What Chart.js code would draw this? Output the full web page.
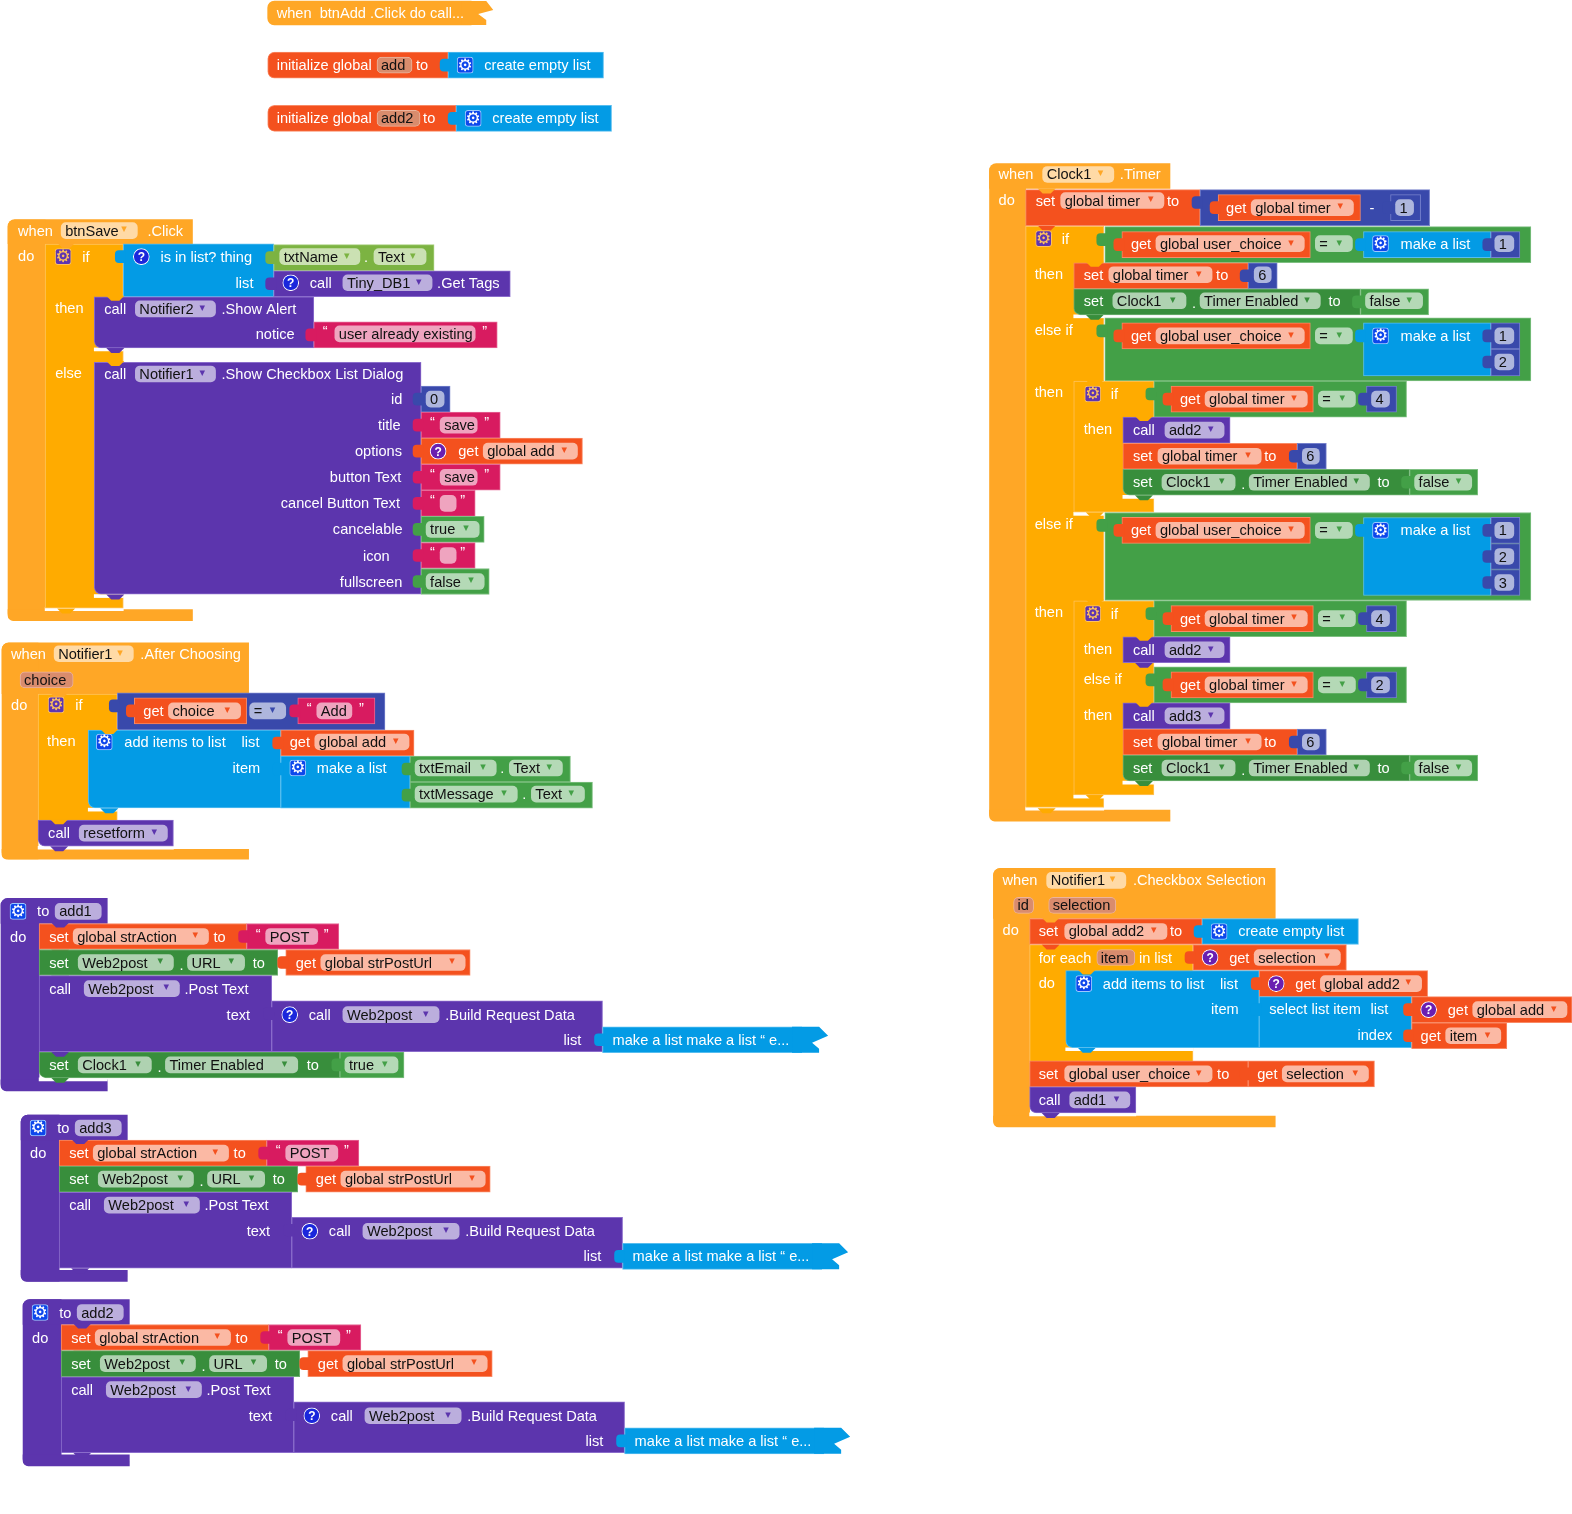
<!DOCTYPE html>
<html lang="en">
<head>
<meta charset="UTF-8">
<title>App Inventor blocks</title>
<script src="https://cdn.jsdelivr.net/npm/chart.js@4"></script>
<style>
    body { margin: 0; background: #fff; }
    canvas { display: block; }
</style>
</head>
<body>
<canvas id="blocks" width="1572" height="1514"></canvas>
<script>
// every block row: colour, x from, x to, y from, y to, flags
// flags: t = input tab on the left, n = notch under it, l = round left, u = round top left, b = round bottom left, o = open right edge
const btnAddBlocks = [['hat',267,470,1,25,'l'], ['red',267,447,52,78,'l'], ['blue',447,602,52,78,'t'], ['red',267,455,105,131,'l'], ['blue',455,610,105,131,'t']];

const btnSaveBlocks = [
    ['hat',8,192,219,243,'u'], ['hat',8,45,219,619,'l'], ['hat',8,192,608,619,'b'],
    ['white',45,123,606,609],
    ['amber',45,123,243,607,'n'],
    ['blue',123,273,243,296,'t'], ['lime',273,433,244,270,'t'], ['purple',273,509,270,296,'t'],
    ['white',94,123,347,350],
    ['purple',94,313,296,347,'nb'], ['crimson',313,496,321,347,'t'],
    ['white',94,123,593,596],
    ['purple',94,420,361,593,'nb'],
    ['indigo',420,449,385,411,'t'], ['crimson',420,499,411,437,'t'], ['red',420,581,437,463,'t'], ['crimson',420,499,463,489,'t'],
    ['crimson',420,474,489,515,'t'], ['green',420,483,515,541,'t'], ['crimson',420,474,541,567,'t'], ['green',420,488,567,593,'t']
];

const afterChoosingBlocks = [
    ['hat',2,248,641,692,'u'], ['hat',2,38,641,857,'l'], ['hat',2,248,847,857,'b'],
    ['amber',38,117,692,819],
    ['indigo',117,384,691,728,'t'], ['red',134,246,696,722,'t'], ['crimson',297,374,696,722,'t'],
    ['white',88,117,806,809],
    ['blue',88,280,728,806,'nb'], ['red',280,413,728,754,'t'], ['blue',280,409,754,806,'t'],
    ['green',409,569,754,780,'t'], ['green',409,591,780,806,'t'],
    ['white',38,173,844,847],
    ['purple',38,173,818,844,'nb']
];

const clockTimerBlocks = [
    ['hat',987,1167,163,188,'u'], ['hat',987,1023,163,819,'l'], ['hat',987,1167,808,819,'b'],
    ['white',1023,1101,805,808],
    ['amber',1023,1101,225,806,'n'],
    ['red',1023,1197,189,225,'n'], ['indigo',1197,1426,189,225,'t'], ['red',1215,1357,194,220,'t'], ['indigo',1387,1417,194,220,'t'],
    ['green',1102,1527,226,262,'t'], ['red',1119,1307,231,257,'t'], ['blue',1360,1487,231,257,'t'], ['indigo',1487,1516,231,257,'t'],
    ['red',1071,1245,262,288,'n'], ['indigo',1245,1274,262,288,'t'],
    ['white',1071,1101,314,317],
    ['dgreen',1071,1357,288,314,'nb'], ['green',1357,1425,288,314,'t'],
    ['green',1102,1527,317,380,'t'], ['red',1119,1307,322,348,'t'], ['blue',1360,1487,322,375,'t'], ['indigo',1487,1516,322,348,'t'], ['indigo',1487,1516,348,375,'t'],
    ['white',1071,1101,511,514],
    ['amber',1071,1151,380,511,'n'],
    ['green',1151,1403,380,416,'t'], ['red',1168,1310,385,411,'t'], ['indigo',1363,1393,385,411,'t'],
    ['purple',1120,1227,416,442,'n'], ['red',1120,1294,442,468,'n'], ['indigo',1294,1323,442,468,'t'],
    ['white',1120,1151,494,497],
    ['dgreen',1120,1406,468,494,'nb'], ['green',1406,1474,468,494,'t'],
    ['green',1102,1527,511,599,'t'], ['red',1119,1307,516,542,'t'], ['blue',1360,1487,516,594,'t'],
    ['indigo',1487,1516,516,542,'t'], ['indigo',1487,1516,542,568,'t'], ['indigo',1487,1516,568,594,'t'],
    ['white',1071,1101,793,796],
    ['amber',1071,1151,599,793,'n'],
    ['green',1151,1403,599,635,'t'], ['red',1168,1310,604,630,'t'], ['indigo',1363,1393,604,630,'t'],
    ['purple',1120,1227,635,661,'n'],
    ['green',1151,1403,665,701,'t'], ['red',1168,1310,670,696,'t'], ['indigo',1363,1393,670,696,'t'],
    ['purple',1120,1227,701,727,'n'], ['red',1120,1294,727,753,'n'], ['indigo',1294,1323,727,753,'t'],
    ['white',1120,1151,779,782],
    ['dgreen',1120,1406,753,779,'nb'], ['green',1406,1474,753,779,'t']
];

const checkboxBlocks = [
    ['hat',991,1272,866,916,'u'], ['hat',991,1027,866,1124,'l'], ['hat',991,1272,1113,1124,'b'],
    ['amber',1027,1190,942,1060,'n'],
    ['red',1027,1199,916,942,'n'], ['blue',1199,1355,916,942,'t'],
    ['red',1190,1343,942,968,'t'],
    ['white',1063,1190,1045,1048],
    ['blue',1063,1256,968,1045,'nb'], ['red',1256,1424,968,994,'t'], ['blue',1256,1408,994,1045,'t'],
    ['red',1408,1568,994,1020,'t'], ['red',1408,1503,1020,1046,'t'],
    ['red',1027,1245,1058,1084,'n'], ['red',1245,1371,1058,1084,'t'],
    ['white',1027,1133,1110,1113],
    ['purple',1027,1133,1084,1110,'nb']
];

// notch of the enclosing block, dropping onto the top of a statement: colour, statement x, y
const topNotches = [
    ['hat',45,243], ['amber',94,296], ['amber',94,361], ['hat',38,692], ['amber',88,728], ['amber',38,818],
    ['hat',1023,189], ['amber',1071,262], ['amber',1071,380], ['amber',1120,416], ['amber',1071,599], ['amber',1120,635], ['amber',1120,701],
    ['hat',1027,916], ['amber',1063,968], ['purple',39,921], ['purple',59,1137], ['purple',61,1321]
];

// the three procedures share one layout, stored at the position of add1
const postStacks = [['add1',0,0,1088], ['add3',20,216,1062], ['add2',22,400,1062]];
const postBlocks = [
    ['red',39,246,921,947,'n'], ['crimson',246,338,921,947,'t'],
    ['dgreen',39,277,947,973,'n'], ['red',285,469,947,973,'t'],
    ['purple',39,271,973,1049,'n'], ['purple',271,601,998,1049,'t'],
    ['blue',601,800,1024,1050,'to']
];
const postTip = [[790,1024],[817,1024],[826,1033],[810,1040],[817,1046],[817,1050],[790,1050]];
const add1Blocks = [['white',39,107,1075,1078], ['dgreen',39,339,1049,1075,'nb'], ['green',339,403,1049,1075,'t']];
const btnAddTip = [[460,1],[485,1],[492,10],[477,14],[485,20],[485,25],[460,25]];

// text, x from, x to, centre y, tint, dropdown arrow
const fields = [
    ['add',376,411,65,'variable'], ['add2',376,419,118,'variable'],
    ['btnSave',61,137,230,'hat',1], ['txtName',279,359,256,'lime',1], ['Text',373,425,256,'lime',1],
    ['Tiny_DB1',342,431,282,'purple',1], ['Notifier2',135,215,308,'purple',1], ['user already existing',334,474,333,'crimson'],
    ['Notifier1',135,215,373,'purple',1], ['0',425,443,398,'indigo'], ['save',439,476,424,'crimson'], ['global add',482,576,450,'red',1],
    ['save',439,476,476,'crimson'], ['',439,455,502,'crimson'], ['true',425,478,528,'green',1], ['',439,455,554,'crimson'], ['false',425,483,580,'green',1],
    ['Notifier1',54,133,652,'hat',1], ['choice',20,73,678,'variable'],
    ['choice',168,240,709,'red',1], ['=',249,285,709,'indigo',1], ['Add',316,351,709,'crimson'],
    ['global add',314,408,740,'red',1], ['txtEmail',414,495,766,'green',1], ['Text',508,561,766,'green',1],
    ['txtMessage',414,516,792,'green',1], ['Text',530,583,792,'green',1], ['resetform',79,167,831,'purple',1],
    ['Clock1',1040,1111,174,'hat',1], ['global timer',1058,1161,200,'red',1], ['global timer',1248,1350,207,'red',1], ['1',1392,1410,207,'indigo'],
    ['global user_choice',1153,1301,243,'red',1], ['=',1312,1349,243,'green',1], ['1',1491,1510,243,'indigo'],
    ['global timer',1106,1209,274,'red',1], ['6',1251,1268,274,'indigo'],
    ['Clock1',1110,1183,300,'dgreen',1], ['Timer Enabled',1197,1317,300,'dgreen',1], ['false',1362,1419,300,'green',1],
    ['global user_choice',1153,1301,335,'red',1], ['=',1312,1349,335,'green',1], ['1',1491,1510,335,'indigo'], ['2',1491,1510,361,'indigo'],
    ['global timer',1202,1304,398,'red',1], ['=',1315,1352,398,'green',1], ['4',1368,1386,398,'indigo'],
    ['add2',1162,1221,429,'purple',1], ['global timer',1155,1258,455,'red',1], ['6',1299,1316,455,'indigo'],
    ['Clock1',1159,1232,481,'dgreen',1], ['Timer Enabled',1246,1366,481,'dgreen',1], ['false',1411,1468,481,'green',1],
    ['global user_choice',1153,1301,529,'red',1], ['=',1312,1349,529,'green',1], ['1',1491,1510,529,'indigo'], ['2',1491,1510,555,'indigo'], ['3',1491,1510,581,'indigo'],
    ['global timer',1202,1304,617,'red',1], ['=',1315,1352,617,'green',1], ['4',1368,1386,617,'indigo'], ['add2',1162,1221,648,'purple',1],
    ['global timer',1202,1304,683,'red',1], ['=',1315,1352,683,'green',1], ['2',1368,1386,683,'indigo'], ['add3',1162,1221,714,'purple',1],
    ['global timer',1155,1258,740,'red',1], ['6',1299,1316,740,'indigo'],
    ['Clock1',1159,1232,766,'dgreen',1], ['Timer Enabled',1246,1366,766,'dgreen',1], ['false',1411,1468,766,'green',1],
    ['Notifier1',1044,1123,878,'hat',1], ['id',1011,1031,903,'variable'], ['selection',1046,1113,903,'variable'],
    ['global add2',1062,1164,929,'red',1], ['item',1094,1132,955,'variable'], ['selection',1251,1337,955,'red',1],
    ['global add2',1317,1418,981,'red',1], ['global add',1469,1563,1007,'red',1], ['item',1442,1497,1033,'red',1],
    ['global user_choice',1062,1209,1071,'red',1], ['selection',1279,1365,1071,'red',1], ['add1',1067,1127,1097,'purple',1]
];
const add1Fields = [['Clock1',78,151,1062,'dgreen',1], ['Timer Enabled',165,297,1062,'dgreen',1], ['true',344,397,1062,'green',1]];
const postFields = [
    ['global strAction',73,208,934,'red',1], ['POST',265,317,934,'crimson'],
    ['Web2post',78,173,960,'dgreen',1], ['URL',187,244,960,'dgreen',1], ['global strPostUrl',320,464,960,'red',1],
    ['Web2post',84,179,986,'purple',1], ['Web2post',342,438,1012,'purple',1]
];

const labels = [
    ['when  btnAdd .Click do call...',276,13], ['initialize global',276,65], ['to',415,65], ['create empty list',483,65],
    ['initialize global',276,118], ['to',422,118], ['create empty list',491,118],
    ['when',18,230], ['.Click',147,230], ['do',18,255], ['if',82,256], ['is in list? thing',160,256], ['list',235,282], ['.',363,256],
    ['call',309,282], ['.Get Tags',436,282], ['then',55,307], ['call',104,308], ['.Show Alert',221,308], ['notice',255,333], ['“',322,330], ['”',481,330],
    ['else',55,372], ['call',104,373], ['.Show Checkbox List Dialog',221,373],
    ['id',390,398], ['title',377,424], ['options',354,450], ['button Text',329,476], ['cancel Button Text',280,502],
    ['cancelable',332,528], ['icon',362,554], ['fullscreen',339,580],
    ['“',429,421], ['”',483,421], ['get',457,450], ['“',429,473], ['”',483,473], ['“',429,499], ['”',459,499], ['“',429,551], ['”',459,551],
    ['when',11,652], ['.After Choosing',140,652], ['do',11,703], ['if',75,703], ['get',143,709], ['“',306,706], ['”',358,706],
    ['then',47,739], ['add items to list',124,740], ['list',241,740], ['get',289,740], ['item',232,766], ['make a list',316,766],
    ['.',499,766], ['.',521,792], ['call',48,831],
    ['when',996,174], ['.Timer',1117,174], ['do',996,199], ['set',1033,200], ['to',1164,200], ['get',1223,207], ['-',1366,207],
    ['if',1059,238], ['get',1128,243], ['make a list',1397,243], ['then',1032,273], ['set',1081,274], ['to',1213,274],
    ['set',1081,300], ['.',1189,302], ['to',1325,300], ['else if',1032,329], ['get',1128,335], ['make a list',1397,335],
    ['then',1032,391], ['if',1108,393], ['get',1177,398], ['then',1081,428], ['call',1130,429], ['set',1130,455], ['to',1261,455],
    ['set',1130,481], ['.',1238,483], ['to',1374,481], ['else if',1032,523], ['get',1128,529], ['make a list',1397,529],
    ['then',1032,610], ['if',1108,612], ['get',1177,617], ['then',1081,647], ['call',1130,648], ['else if',1081,677], ['get',1177,683],
    ['then',1081,713], ['call',1130,714], ['set',1130,740], ['to',1261,740], ['set',1130,766], ['.',1238,768], ['to',1374,766],
    ['when',1000,878], ['.Checkbox Selection',1130,878], ['do',1000,928], ['set',1036,929], ['to',1167,929], ['create empty list',1235,929],
    ['for each',1036,955], ['in list',1136,955], ['get',1226,955], ['do',1036,980], ['add items to list',1100,981], ['list',1217,981], ['get',1292,981],
    ['item',1208,1006], ['select list item',1266,1006], ['list',1367,1006], ['get',1444,1007], ['index',1354,1032], ['get',1417,1033],
    ['set',1036,1071], ['to',1214,1071], ['get',1254,1071], ['call',1036,1097]
];
const add1Labels = [['set',49,1062], ['.',157,1064], ['to',306,1062]];
const postLabels = [
    ['to',37,909], ['do',10,934], ['set',49,934], ['to',213,934], ['“',255,931], ['”',323,931],
    ['set',49,960], ['.',179,962], ['to',252,960], ['get',295,960],
    ['call',49,986], ['.Post Text',184,986], ['text',226,1012], ['call',308,1012], ['.Build Request Data',444,1012],
    ['list',562,1037], ['make a list make a list “ e...',611,1037]
];

// x from, centre y, background kind
const gearIcons = [
    [456,65,'onBlue'], [464,118,'onBlue'], [55,256,'onAmber'], [48,703,'onAmber'], [96,740,'onBlue'], [289,766,'onBlue'],
    [1033,238,'onAmber'], [1369,243,'onBlue'], [1369,335,'onBlue'], [1082,393,'onAmber'], [1369,529,'onBlue'], [1082,612,'onAmber'],
    [1208,929,'onBlue'], [1073,981,'onBlue']
];
const postGear = [10,909,'onBlue'];
// x from, centre y, background kind
const helpIcons = [
    [133,256,'deep'], [282,282,'deep'], [429,450,'plum'],
    [1199,955,'plum'], [1265,981,'plum'], [1417,1007,'plum']
];
const postHelp = [281,1012,'deep'];

const blockColours = {
    hat: ['#FFA726', null], amber: ['#FFAB00', '#FFC35C'], red: ['#F4511E', '#F98A66'], blue: ['#039BE5', '#56BDEF'],
    green: ['#43A047', '#7FC082'], dgreen: ['#388E3C', '#6FB072'], lime: ['#7CB342', '#A6CF7C'], purple: ['#5C35AD', '#8A6CCB'],
    crimson: ['#D81B60', '#E66A97'], indigo: ['#3949AB', '#7580CB'], white: ['#FFFFFF', null]
};
const fieldTints = {
    hat: '#FFDAA6', red: '#FBB9A4', green: '#B4D9B6', dgreen: '#AFD2B1', lime: '#CBE1B3',
    purple: '#BBAEDD', crimson: '#EFA4BF', indigo: '#AEB6DD', variable: '#D98C6D'
};
const iconColours = { onAmber: ['#5E35B1', '#FFC35C'], onBlue: ['#0D47EC', '#9CC9FF'], deep: ['#1A27DC', '#FFFFFF'], plum: ['#6A1FB0', '#FFFFFF'] };

function bar(x0, x1, y0, y1, fill, extra) {
    return Object.assign({
        type: 'bar',
        data: [{ x: [x0, x1], y: (y0 + y1) / 2 }],
        barThickness: y1 - y0,
        backgroundColor: fill,
        borderSkipped: false
    }, extra);
}

function polygon(points, dx, dy, fill) {
    return {
        type: 'line',
        data: points.map(p => ({ x: p[0] + dx, y: p[1] + dy })),
        fill: 'shape',
        backgroundColor: fill,
        borderWidth: 0,
        pointRadius: 0,
        tension: 0
    };
}

function notch(x, y, fill) {
    return polygon([[x + 12, y - 1], [x + 30, y - 1], [x + 25, y + 4], [x + 17, y + 4]], 0, 0, fill);
}

function blockBars(row, dx, dy) {
    const [colour, x0, x1, y0, y1, flags = ''] = row;
    const [fill, edge] = blockColours[colour];
    const out = [];
    const radius = {
        topLeft: /[lu]/.test(flags) ? 7 : 0,
        bottomLeft: /[lb]/.test(flags) ? 7 : 0,
        topRight: 0, bottomRight: 0
    };
    if (flags.includes('n')) out.push(notch(x0 + dx, y1 + dy + 1, fill));
    const rim = !edge ? 0 : flags.includes('o') ? { top: 1, bottom: 1, left: 1, right: 0 } : 1;
    out.push(bar(x0 + dx, x1 + dx, y0 + dy, y1 + dy, fill, { borderRadius: radius, borderWidth: rim, borderColor: edge || fill }));
    if (flags.includes('t')) {
        out.push(bar(x0 + dx - 8, x0 + dx + 2, y0 + dy + 7, y0 + dy + 19, fill, { borderRadius: { topLeft: 4, bottomLeft: 4, topRight: 0, bottomRight: 0 } }));
    }
    return out;
}

function fieldBar(row, dx, dy) {
    const [, x0, x1, y, tint] = row;
    const isVar = tint === 'variable';
    return bar(x0 + dx, x1 + dx, y + dy - 8, y + dy + 8, fieldTints[tint], {
        borderRadius: 5, borderWidth: isVar ? 1 : 0, borderColor: isVar ? '#EDB49C' : fieldTints[tint]
    });
}

function iconBar(icon, dx, dy, round) {
    const [x0, y, kind] = icon;
    const c = iconColours[kind];
    return bar(x0 + dx, x0 + dx + 16, y + dy - 8, y + dy + 8, c[0], {
        borderRadius: round ? 8 : 3, borderWidth: 1, borderColor: c[1]
    });
}

const datasets = [];
const textRows = [];
const arrowRows = [];

function addStack(rows, dx, dy) {
    rows.forEach(r => datasets.push(...blockBars(r, dx, dy)));
}
function addFields(rows, dx, dy) {
    rows.forEach(r => {
        datasets.push(fieldBar(r, dx, dy));
        textRows.push([r[0], r[1] + dx + 4, r[3] + dy, '#111111']);
        if (r[5]) arrowRows.push([r[2] + dx - 16, r[3] + dy, blockColours[r[4]][0]]);
    });
}
function addLabels(rows, dx, dy) {
    rows.forEach(r => textRows.push([r[0], r[1] + dx, r[2] + dy, '#FFFFFF']));
}

[btnAddBlocks, btnSaveBlocks, afterChoosingBlocks, clockTimerBlocks, checkboxBlocks].forEach(s => addStack(s, 0, 0));
datasets.push(polygon(btnAddTip, 0, 0, blockColours.hat[0]));

postStacks.forEach(([name, dx, dy, bottom]) => {
    // outer frame goes first so the statements sit on top of it
    const frame = blockColours.purple[0];
    datasets.push(
        bar(1 + dx, 39 + dx, 896 + dy, bottom + dy, frame, { borderRadius: { topLeft: 7, bottomLeft: 7, topRight: 0, bottomRight: 0 } }),
        bar(1 + dx, 107 + dx, 896 + dy, 921 + dy, frame, { borderRadius: { topLeft: 7, bottomLeft: 0, topRight: 0, bottomRight: 0 } }),
        bar(1 + dx, 107 + dx, bottom - 11 + dy, bottom + dy, frame, { borderRadius: { topLeft: 0, bottomLeft: 7, topRight: 0, bottomRight: 0 } })
    );
    if (name === 'add1') addStack(add1Blocks, dx, dy);
    addStack(postBlocks, dx, dy);
    datasets.push(polygon(postTip, dx, dy, blockColours.blue[0]));
    addFields([[name, 55, 101, 909, 'purple']], dx, dy);
    if (name === 'add1') { addFields(add1Fields, dx, dy); addLabels(add1Labels, dx, dy); }
    addFields(postFields, dx, dy);
    addLabels(postLabels, dx, dy);
    datasets.push(iconBar(postGear, dx, dy, false), iconBar(postHelp, dx, dy, true));
});

topNotches.forEach(([colour, x, y]) => datasets.push(notch(x, y, blockColours[colour][0])));
addFields(fields, 0, 0);
addLabels(labels, 0, 0);
gearIcons.forEach(i => datasets.push(iconBar(i, 0, 0, false)));
helpIcons.forEach(i => datasets.push(iconBar(i, 0, 0, true)));

// chart draws low order last, so later entries end up on top
datasets.forEach((d, i) => { d.order = datasets.length - i; });

const blockText = {
    id: 'blockText',
    afterDatasetsDraw(chart) {
        const { ctx, scales: { x, y } } = chart;
        ctx.save();
        ctx.textBaseline = 'middle';
        ctx.font = '14.6px "Liberation Sans", Arial, sans-serif';
        textRows.forEach(([t, tx, ty, colour]) => {
            ctx.fillStyle = colour;
            ctx.fillText(t, x.getPixelForValue(tx), y.getPixelForValue(ty + 1));
        });
        ctx.font = '11px "DejaVu Sans"';
        arrowRows.forEach(([ax, ay, colour]) => {
            ctx.fillStyle = colour;
            ctx.fillText('▾', x.getPixelForValue(ax), y.getPixelForValue(ay - 1));
        });
        ctx.textAlign = 'center';
        ctx.font = 'bold 17px "DejaVu Sans"';
        const allGears = gearIcons.map(g => [g[0], g[1], g[2]]);
        postStacks.forEach(s => allGears.push([postGear[0] + s[1], postGear[1] + s[2], postGear[2]]));
        allGears.forEach(([gx, gy, kind]) => {
            ctx.fillStyle = kind === 'onAmber' ? '#FFC35C' : '#FFFFFF';
            ctx.fillText('⚙', x.getPixelForValue(gx + 8), y.getPixelForValue(gy + 1));
        });
        ctx.font = 'bold 12px "Liberation Sans"';
        ctx.fillStyle = '#FFFFFF';
        const allHelp = helpIcons.map(h => [h[0], h[1]]);
        postStacks.forEach(s => allHelp.push([postHelp[0] + s[1], postHelp[1] + s[2]]));
        allHelp.forEach(([hx, hy]) => ctx.fillText('?', x.getPixelForValue(hx + 8), y.getPixelForValue(hy + 1)));
        ctx.restore();
    }
};

new Chart(document.getElementById('blocks'), {
    type: 'bar',
    data: { datasets },
    plugins: [blockText],
    options: {
        responsive: false,
        animation: false,
        datasets: { bar: { indexAxis: 'y', grouped: false } },
        layout: { padding: 0 },
        plugins: { legend: { display: false }, tooltip: { enabled: false } },
        scales: {
            x: { type: 'linear', display: false, min: 0, max: 1568 },
            y: { type: 'linear', display: false, min: 0, max: 1510, reverse: true, offset: false }
        }
    }
});
</script>
</body>
</html>
